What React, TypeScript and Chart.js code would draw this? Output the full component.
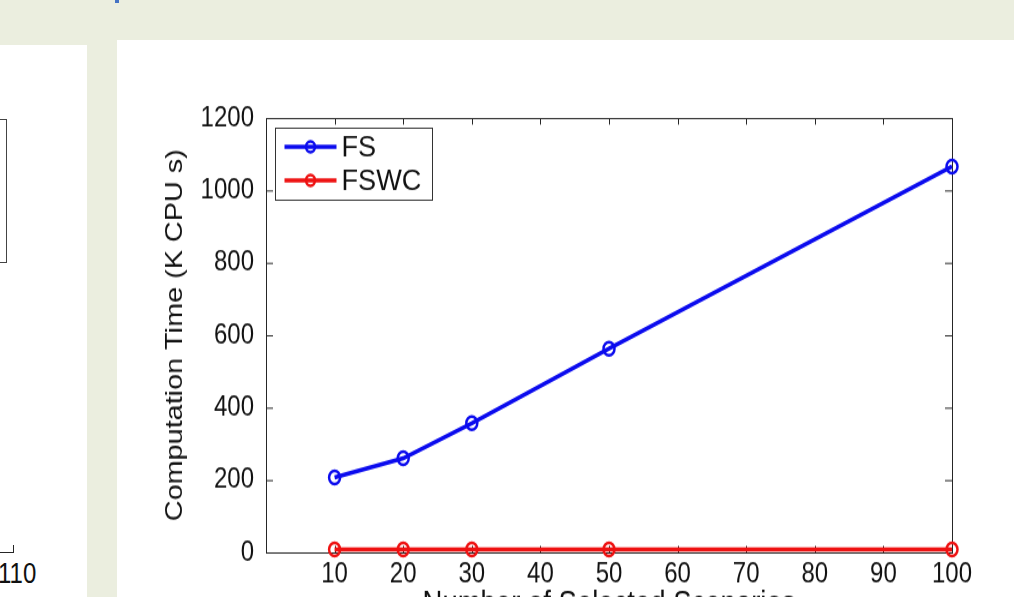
import React, { useEffect, useRef } from 'react';
import { Chart, registerables } from 'chart.js';

Chart.register(...registerables);

// ---- data ----
const scenarios = [10, 20, 30, 50, 100];
const fsTime = [207, 260, 357, 563, 1066];
const fswcTime = [8, 8, 8, 8, 8];
const xTickValues = [10, 20, 30, 40, 50, 60, 70, 80, 90, 100];
const yTickValues = [0, 200, 400, 600, 800, 1000, 1200];
const seriesNames = ['FS', 'FSWC'];
const seriesColors = ['#0b0bee', '#ee1111'];
const xTitle = 'Number of Selected Scenarios';
const yTitle = 'Computation Time (K CPU s)';
const leftPanelTick = '110';

const FONT = '"Liberation Sans", Arial, sans-serif';
const AXIS_COLOR = '#262626';
const TEXT_COLOR = '#111111';
// the slide image is stretched vertically; the canvas is drawn at 1/STRETCH height and scaled back
const STRETCH = 1.2;
const CANVAS_W = 897;
const CANVAS_H = 500;

const framePlugin = {
  id: 'matlabFrame',
  beforeDatasetsDraw(chart: any) {
    const { ctx, chartArea } = chart;
    const { left, right, top, bottom } = chartArea;
    const xs = chart.scales.x;
    const ys = chart.scales.y;
    ctx.save();
    ctx.strokeStyle = AXIS_COLOR;
    ctx.lineWidth = 1;
    ctx.strokeRect(left + 0.5, top + 0.5, right - left, bottom - top);
    ctx.beginPath();
    xTickValues.forEach((v) => {
      const px = Math.round(xs.getPixelForValue(v)) + 0.5;
      ctx.moveTo(px, bottom);
      ctx.lineTo(px, bottom - 5.5);
      ctx.moveTo(px, top);
      ctx.lineTo(px, top + 5.5);
    });
    yTickValues.forEach((v) => {
      const py = ys.getPixelForValue(v) + 0.5;
      ctx.moveTo(left, py);
      ctx.lineTo(left + 7, py);
      ctx.moveTo(right, py);
      ctx.lineTo(right - 7, py);
    });
    ctx.stroke();
    ctx.restore();
  },
};

const legendPlugin = {
  id: 'matlabLegend',
  afterDatasetsDraw(chart: any) {
    const { ctx, chartArea } = chart;
    const bx = chartArea.left + 9.5;
    const by = chartArea.top + 8.5;
    const bw = 157;
    const bh = 60;
    ctx.save();
    ctx.fillStyle = '#ffffff';
    ctx.fillRect(bx, by, bw, bh);
    ctx.strokeStyle = '#333333';
    ctx.lineWidth = 1;
    ctx.strokeRect(bx, by, bw, bh);
    chart.data.datasets.forEach((ds: any, i: number) => {
      const cy = by + 15.5 + i * 28;
      const x0 = bx + 9;
      const x1 = bx + 61;
      ctx.strokeStyle = ds.borderColor;
      ctx.lineWidth = 3.5;
      ctx.beginPath();
      ctx.moveTo(x0, cy);
      ctx.lineTo(x1, cy);
      ctx.stroke();
      ctx.lineWidth = 2.5;
      ctx.beginPath();
      ctx.arc((x0 + x1) / 2, cy, 4.5, 0, Math.PI * 2);
      ctx.stroke();
      ctx.save();
      ctx.translate(bx + 66, cy + 1);
      ctx.scale(1.13, 1);
      ctx.fillStyle = TEXT_COLOR;
      ctx.font = `24px ${FONT}`;
      ctx.textBaseline = 'middle';
      ctx.textAlign = 'left';
      ctx.fillText(ds.label, 0, 0);
      ctx.restore();
    });
    ctx.restore();
  },
};

function ChartPanel() {
  const ref = useRef<HTMLCanvasElement>(null);
  useEffect(() => {
    if (!ref.current) return;
    const datasets = [fsTime, fswcTime].map((vals, i) => ({
      label: seriesNames[i],
      data: scenarios.map((s, j) => ({ x: s, y: vals[j] })),
      borderColor: seriesColors[i],
      backgroundColor: seriesColors[i],
      borderWidth: 3.5,
      pointRadius: 5.5,
      pointBorderWidth: 2.5,
      pointBackgroundColor: 'rgba(0,0,0,0)',
      pointBorderColor: seriesColors[i],
      tension: 0,
      clip: false as any,
    }));
    const chart = new Chart(ref.current, {
      type: 'line',
      data: { datasets },
      plugins: [framePlugin, legendPlugin],
      options: {
        animation: false,
        responsive: false,
        maintainAspectRatio: false,
        devicePixelRatio: 1,
        layout: { padding: { top: 65, right: 62, left: 0, bottom: 0 } },
        plugins: { legend: { display: false }, tooltip: { enabled: false }, title: { display: false } },
        scales: {
          x: {
            type: 'linear',
            min: 0,
            max: 100,
            grid: { display: false, drawTicks: false },
            border: { display: false },
            afterBuildTicks: (s: any) => {
              s.ticks = xTickValues.map((v) => ({ value: v }));
            },
            afterFit: (s: any) => {
              s.height = 73;
            },
            ticks: {
              autoSkip: false,
              maxRotation: 0,
              padding: 4,
              color: TEXT_COLOR,
              font: { family: FONT, size: 24 },
              callback: (v: any) => String(v),
            },
            title: {
              display: true,
              text: xTitle,
              color: TEXT_COLOR,
              font: { family: FONT, size: 27.5, lineHeight: 1 },
              padding: { top: 0, bottom: 16 },
            },
          },
          y: {
            type: 'linear',
            min: 0,
            max: 1200,
            grid: { display: false, drawTicks: false },
            border: { display: false },
            afterBuildTicks: (s: any) => {
              s.ticks = yTickValues.map((v) => ({ value: v }));
            },
            afterFit: (s: any) => {
              s.width = 149;
            },
            ticks: {
              padding: 12,
              color: TEXT_COLOR,
              font: { family: FONT, size: 24 },
              callback: (v: any) => String(v),
            },
            title: {
              display: true,
              text: yTitle,
              color: TEXT_COLOR,
              font: { family: FONT, size: 24, lineHeight: 1 },
              padding: { top: 46, bottom: 0 },
            },
          },
        },
      },
    });
    return () => chart.destroy();
  }, []);
  return (
    <canvas
      ref={ref}
      width={CANVAS_W}
      height={CANVAS_H}
      style={{
        position: 'absolute',
        left: 117,
        top: 40,
        width: CANVAS_W,
        height: CANVAS_H,
        transform: `scaleY(${STRETCH})`,
        transformOrigin: '0 0',
      }}
    />
  );
}

export default function App() {
  return (
    <div
      style={{
        position: 'fixed',
        left: 0,
        top: 0,
        width: 1014,
        height: 597,
        overflow: 'hidden',
        background: '#ebeedf',
        fontFamily: FONT,
      }}
    >
      <div style={{ position: 'absolute', left: 115, top: 0, width: 4, height: 3, background: '#4472c4' }} />
      <div style={{ position: 'absolute', left: 0, top: 45, width: 87, height: 560, background: '#ffffff' }}>
        <div
          style={{
            position: 'absolute',
            left: -20,
            top: 74,
            width: 27,
            height: 144,
            border: '1px solid #444',
            boxSizing: 'border-box',
          }}
        />
        <div style={{ position: 'absolute', left: 0, top: 507, width: 14, height: 1, background: AXIS_COLOR }} />
        <div style={{ position: 'absolute', left: 13, top: 500, width: 1, height: 8, background: AXIS_COLOR }} />
        <div
          style={{
            position: 'absolute',
            left: -2,
            top: 514,
            fontSize: 24,
            lineHeight: '24px',
            color: TEXT_COLOR,
            whiteSpace: 'nowrap',
            transform: `scaleY(${STRETCH})`,
            transformOrigin: '0 0',
          }}
        >
          {leftPanelTick}
        </div>
      </div>
      <div style={{ position: 'absolute', left: 117, top: 40, width: 897, height: 560, background: '#ffffff' }} />
      <ChartPanel />
    </div>
  );
}
